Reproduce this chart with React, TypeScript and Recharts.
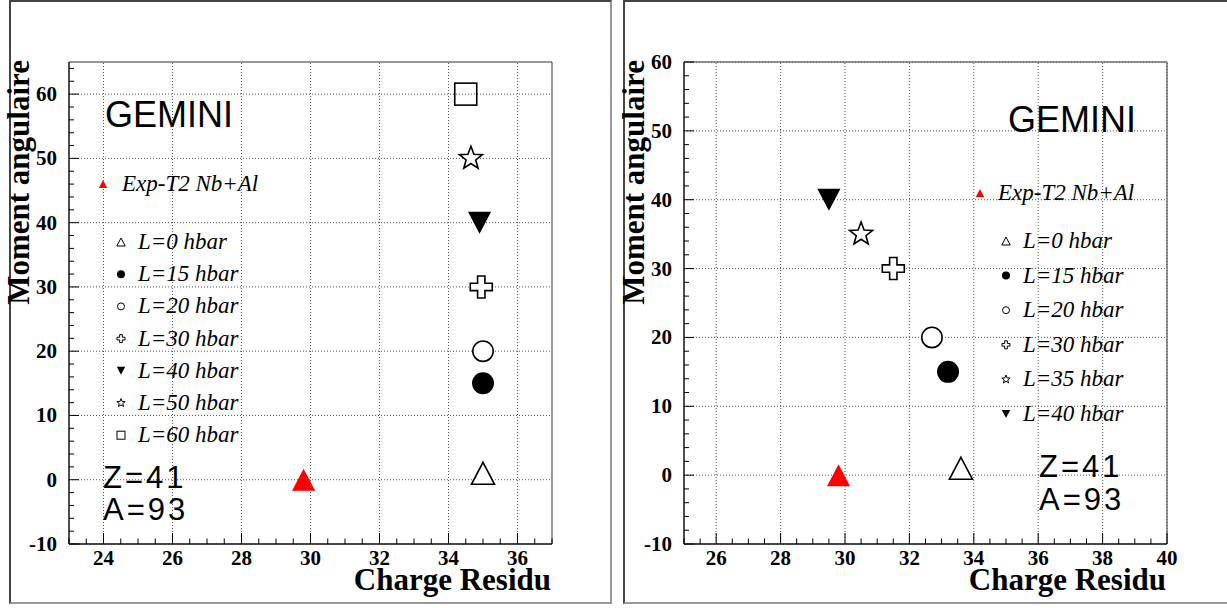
import React from "react"
import { ScatterChart, Scatter, XAxis, YAxis, ReferenceLine, ReferenceArea, Legend } from "recharts"

// left panel: Z=41 A=93, GEMINI up to 60 hbar
const leftNames = ["Exp-T2 Nb+Al", "L=0 hbar", "L=15 hbar", "L=20 hbar", "L=30 hbar", "L=40 hbar", "L=50 hbar", "L=60 hbar"]
const leftCharge = [29.8, 35.0, 35.0, 35.0, 34.95, 34.9, 34.65, 34.5]
const leftMoment = [0, 1, 15, 20, 30, 40, 50, 60]
const leftMarkers = ["expTri", "openTri", "dot", "ring", "cross", "downTri", "star", "square"]
const leftXTicks = [24, 26, 28, 30, 32, 34, 36]
const leftYTicks = [-10, 0, 10, 20, 30, 40, 50, 60]

// right panel: same nucleus, up to 40 hbar
const rightNames = ["Exp-T2 Nb+Al", "L=0 hbar", "L=15 hbar", "L=20 hbar", "L=30 hbar", "L=35 hbar", "L=40 hbar"]
const rightCharge = [29.8, 33.6, 33.2, 32.7, 31.5, 30.5, 29.5]
const rightMoment = [0, 1, 15, 20, 30, 35, 40]
const rightMarkers = ["expTri", "openTri", "dot", "ring", "cross", "star", "downTri"]
const rightXTicks = [26, 28, 30, 32, 34, 36, 38, 40]
const rightYTicks = [-10, 0, 10, 20, 30, 40, 50, 60]

const serif = "'Liberation Serif', 'Times New Roman', serif"
const sans = "'Liberation Sans', Arial, sans-serif"

function steps(from: number, to: number, step: number) {
  const out: number[] = []
  for (let v = from; v <= to + 1e-9; v += step) out.push(Math.round(v * 100) / 100)
  return out
}

function Marker({ kind, cx, cy, size }: { kind: string; cx: number; cy: number; size: number }) {
  const h = size / 2
  const sw = size > 12 ? 1.6 : 1
  if (kind === "expTri")
    return <polygon points={`${cx},${cy - h} ${cx + h * 1.05},${cy + h} ${cx - h * 1.05},${cy + h}`} fill="#ff0000" />
  if (kind === "openTri")
    return <polygon points={`${cx},${cy - h} ${cx + h * 1.05},${cy + h} ${cx - h * 1.05},${cy + h}`} fill="#fff" stroke="#000" strokeWidth={sw} />
  if (kind === "downTri")
    return <polygon points={`${cx - h * 1.05},${cy - h} ${cx + h * 1.05},${cy - h} ${cx},${cy + h}`} fill="#000" />
  if (kind === "dot") return <circle cx={cx} cy={cy} r={h} fill="#000" />
  if (kind === "ring") return <circle cx={cx} cy={cy} r={h - sw / 2} fill="#fff" stroke="#000" strokeWidth={sw} />
  if (kind === "square")
    return <rect x={cx - h} y={cy - h} width={size} height={size} fill="none" stroke="#000" strokeWidth={sw} />
  if (kind === "cross") {
    const a = h / 3
    const pts = [
      [-a, -h], [a, -h], [a, -a], [h, -a], [h, a], [a, a],
      [a, h], [-a, h], [-a, a], [-h, a], [-h, -a], [-a, -a],
    ]
    return <polygon points={pts.map((p) => `${cx + p[0]},${cy + p[1]}`).join(" ")} fill="#fff" stroke="#000" strokeWidth={sw} />
  }
  // star
  const R = h * 1.1
  const r = R * 0.42
  const pts: string[] = []
  for (let i = 0; i < 10; i++) {
    const ang = (Math.PI / 5) * i - Math.PI / 2
    const rad = i % 2 === 0 ? R : r
    pts.push(`${cx + rad * Math.cos(ang)},${cy + rad * Math.sin(ang)}`)
  }
  return <polygon points={pts.join(" ")} fill="#fff" stroke="#000" strokeWidth={sw} />
}

function makeXTick(majors: number[], axisY: number) {
  return (p: any) => {
    const v = p.payload.value
    const major = majors.includes(v)
    return (
      <g>
        <line x1={p.x} x2={p.x} y1={axisY} y2={axisY - (major ? 11 : 5.5)} stroke="#000" />
        {major && (
          <text x={p.x} y={axisY + 21} textAnchor="middle" fontFamily={serif} fontWeight="bold" fontSize={21} fill="#000">
            {v}
          </text>
        )}
      </g>
    )
  }
}

function makeYTick(majors: number[], axisX: number) {
  return (p: any) => {
    const v = p.payload.value
    const major = majors.includes(v)
    return (
      <g>
        <line x1={axisX} x2={axisX + (major ? 10 : 5)} y1={p.y} y2={p.y} stroke="#000" />
        {major && (
          <text x={axisX - 12} y={p.y + 7} textAnchor="end" fontFamily={serif} fontWeight="bold" fontSize={21} fill="#000">
            {v}
          </text>
        )}
      </g>
    )
  }
}

type LegendCfg = {
  left: number; top: number
  expY: number; expX: number; expTextX: number
  rowY: number; rowGap: number; markX: number; textX: number
}

function makeLegend(names: string[], markers: string[], cfg: LegendCfg) {
  return (props: any) => {
    const payload = props.payload || []
    return (
      <svg width={240} height={300} style={{ overflow: "visible", display: "block" }}>
        {payload.map((entry: any) => {
          const i = names.indexOf(entry.value)
          if (i < 0) return null
          const y = i === 0 ? cfg.expY : cfg.rowY + (i - 1) * cfg.rowGap
          const mx = i === 0 ? cfg.expX : cfg.markX
          const tx = i === 0 ? cfg.expTextX : cfg.textX
          return (
            <g key={entry.value}>
              <Marker kind={markers[i]} cx={mx} cy={y} size={8} />
              <text x={tx} y={y + 7} fontFamily={serif} fontStyle="italic" fontSize={23} fill="#000">
                {entry.value}
              </text>
            </g>
          )
        })}
      </svg>
    )
  }
}

type PanelProps = {
  left: number; width: number
  margin: { top: number; right: number; bottom: number; left: number }
  names: string[]; charge: number[]; moment: number[]; markers: string[]
  xDomain: [number, number]; yDomain: [number, number]
  xTicks: number[]; yTicks: number[]
  legend: LegendCfg
  gemini: { x: number; y: number }
  za: { x: number; y1: number; y2: number }
  frame: { x: number; w: number }
}

function Panel(p: PanelProps) {
  const xMinor = steps(p.xDomain[0], p.xDomain[1], 0.5)
  const yMinor = steps(p.yDomain[0], p.yDomain[1], 2)
  const plotLeft = p.margin.left + 1
  const plotBottom = 608 - p.margin.bottom - 1
  const plotTop = p.margin.top
  const plotRight = p.width - p.margin.right
  return (
    <div style={{ position: "absolute", left: p.left, top: 0, width: p.width, height: 608 }}>
      <div
        style={{
          position: "absolute", left: p.frame.x, top: 0, width: p.frame.w, height: 604, boxSizing: "border-box",
          borderTop: "2px solid #444", borderLeft: "2px solid #444", borderRight: "2px solid #999", borderBottom: "2px solid #999",
        }}
      />
      <ScatterChart width={p.width} height={608} margin={p.margin} style={{ position: "absolute", left: 0, top: 0 }}>
        <XAxis
          type="number" dataKey="x" domain={p.xDomain} ticks={xMinor} interval={0} height={1}
          tickSize={0} tickMargin={0} tickLine={false} stroke="#000" tick={makeXTick(p.xTicks, plotBottom)} allowDataOverflow
        />
        <YAxis
          type="number" dataKey="y" domain={p.yDomain} ticks={yMinor} interval={0} width={1}
          tickSize={0} tickMargin={0} tickLine={false} stroke="#000" tick={makeYTick(p.yTicks, plotLeft)} allowDataOverflow
        />
        {p.xTicks.map((v) => (
          <ReferenceLine key={"gx" + v} x={v} stroke="#555" strokeDasharray="1 2" />
        ))}
        {p.yTicks.map((v) => (
          <ReferenceLine key={"gy" + v} y={v} stroke="#555" strokeDasharray="1 2" />
        ))}
        <ReferenceArea x1={p.xDomain[0]} x2={p.xDomain[1]} y1={p.yDomain[0]} y2={p.yDomain[1]} fill="none" stroke="#333" />
        {p.names.map((name, i) => (
          <Scatter
            key={name}
            name={name}
            data={[{ x: p.charge[i], y: p.moment[i] }]}
            isAnimationActive={false}
            shape={(sp: any) => <Marker kind={p.markers[i]} cx={sp.cx} cy={sp.cy} size={22} />}
          />
        ))}
        <Legend
          layout="vertical" align="center" verticalAlign="middle"
          wrapperStyle={{ left: p.legend.left, top: p.legend.top, width: 240, height: 300 }}
          content={makeLegend(p.names, p.markers, p.legend)}
        />
      </ScatterChart>
      <svg width={p.width} height={608} style={{ position: "absolute", left: 0, top: 0, pointerEvents: "none" }}>
        <text x={p.gemini.x} y={p.gemini.y} fontFamily={sans} fontSize={36} fill="#000">GEMINI</text>
        <text x={p.za.x} y={p.za.y1} fontFamily={sans} fontSize={31} letterSpacing={3} fill="#000">Z=41</text>
        <text x={p.za.x} y={p.za.y2} fontFamily={sans} fontSize={31} letterSpacing={3} fill="#000">A=93</text>
        <text x={plotRight - 1} y={plotBottom + 46} textAnchor="end" fontFamily={serif} fontWeight="bold" fontSize={31} fill="#000">
          Charge Residu
        </text>
        <text
          x={plotLeft - 40} y={plotTop - 2} transform={`rotate(-90 ${plotLeft - 40} ${plotTop - 2})`}
          textAnchor="end" fontFamily={serif} fontWeight="bold" fontSize={31} fill="#000"
        >
          Moment angulaire
        </text>
      </svg>
    </div>
  )
}

export default function App() {
  return (
    <div style={{ position: "absolute", left: 0, top: 0, width: 1227, height: 608, overflow: "hidden", background: "#fff" }}>
      <Panel
        left={0} width={612}
        margin={{ top: 62, right: 60, bottom: 63, left: 68 }}
        names={leftNames} charge={leftCharge} moment={leftMoment} markers={leftMarkers}
        xDomain={[23, 37]} yDomain={[-10, 65]} xTicks={leftXTicks} yTicks={leftYTicks}
        legend={{ left: 90, top: 165, expY: 19, expX: 13, expTextX: 32, rowY: 77, rowGap: 32.2, markX: 31, textX: 48 }}
        gemini={{ x: 105, y: 127 }}
        za={{ x: 103, y1: 488, y2: 520 }}
        frame={{ x: 9, w: 603 }}
      />
      <Panel
        left={612} width={615}
        margin={{ top: 62, right: 60, bottom: 63, left: 71 }}
        names={rightNames} charge={rightCharge} moment={rightMoment} markers={rightMarkers}
        xDomain={[25, 40]} yDomain={[-10, 60]} xTicks={rightXTicks} yTicks={rightYTicks}
        legend={{ left: 350, top: 170, expY: 23, expX: 18, expTextX: 36, rowY: 71, rowGap: 34.6, markX: 44, textX: 61 }}
        gemini={{ x: 396, y: 132 }}
        za={{ x: 427, y1: 477, y2: 510 }}
        frame={{ x: 11, w: 620 }}
      />
    </div>
  )
}
